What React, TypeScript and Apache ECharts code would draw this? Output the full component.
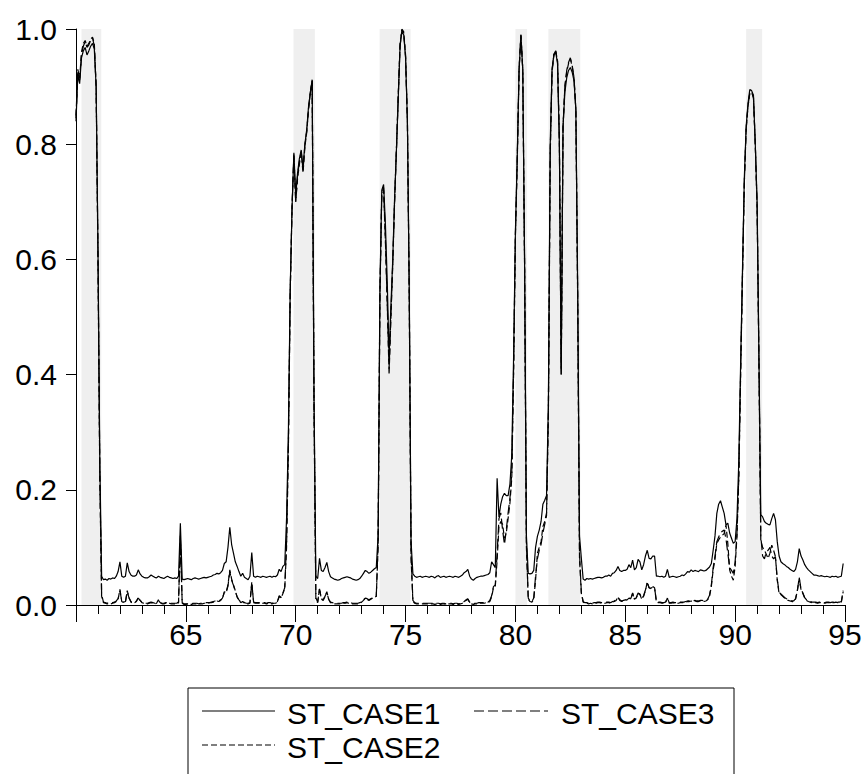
import React, { useEffect, useRef } from 'react';
import * as echarts from 'echarts';

// Monthly observations, 1960:01 .. 1994:12
const START_YEAR = 1960;

const ST_CASE1 = [
  0.84, 0.92, 0.905, 0.95, 0.962, 0.968, 0.955, 0.962, 0.97, 0.975, 0.965, 0.90, // 1960
  0.62, 0.25, 0.05, 0.044, 0.045, 0.043, 0.046, 0.045, 0.047, 0.046, 0.05, 0.058, // 1961
  0.075, 0.05, 0.048, 0.05, 0.073, 0.058, 0.052, 0.05, 0.05, 0.052, 0.061, 0.054, // 1962
  0.05, 0.048, 0.047, 0.047, 0.049, 0.052, 0.05, 0.048, 0.047, 0.05, 0.048, 0.047, // 1963
  0.046, 0.048, 0.05, 0.048, 0.047, 0.046, 0.047, 0.046, 0.05, 0.142, 0.045, 0.044, // 1964
  0.045, 0.046, 0.045, 0.044, 0.046, 0.047, 0.046, 0.045, 0.046, 0.047, 0.048, 0.047, // 1965
  0.048, 0.049, 0.05, 0.052, 0.053, 0.055, 0.054, 0.056, 0.06, 0.072, 0.075, 0.10, // 1966
  0.135, 0.105, 0.09, 0.075, 0.067, 0.058, 0.05, 0.055, 0.048, 0.046, 0.044, 0.05, // 1967
  0.091, 0.05, 0.048, 0.05, 0.049, 0.048, 0.05, 0.049, 0.048, 0.049, 0.05, 0.048, // 1968
  0.05, 0.049, 0.052, 0.062, 0.058, 0.067, 0.07, 0.15, 0.30, 0.55, 0.69, 0.785, // 1969
  0.71, 0.75, 0.775, 0.79, 0.76, 0.80, 0.825, 0.865, 0.89, 0.912, 0.36, 0.05, // 1970
  0.046, 0.081, 0.06, 0.058, 0.065, 0.074, 0.058, 0.049, 0.047, 0.045, 0.044, 0.043, // 1971
  0.044, 0.046, 0.047, 0.048, 0.049, 0.048, 0.047, 0.045, 0.044, 0.043, 0.044, 0.046, // 1972
  0.05, 0.055, 0.06, 0.058, 0.055, 0.057, 0.06, 0.063, 0.065, 0.12, 0.55, 0.72, // 1973
  0.73, 0.66, 0.56, 0.43, 0.52, 0.60, 0.706, 0.79, 0.88, 0.97, 0.995, 0.99, // 1974
  0.95, 0.84, 0.55, 0.11, 0.054, 0.05, 0.048, 0.049, 0.05, 0.048, 0.049, 0.05, // 1975
  0.049, 0.048, 0.05, 0.049, 0.047, 0.05, 0.051, 0.048, 0.049, 0.05, 0.048, 0.049, // 1976
  0.05, 0.049, 0.048, 0.05, 0.049, 0.048, 0.05, 0.052, 0.056, 0.058, 0.062, 0.05, // 1977
  0.045, 0.043, 0.046, 0.048, 0.049, 0.05, 0.05, 0.051, 0.052, 0.053, 0.056, 0.075, // 1978
  0.07, 0.065, 0.22, 0.153, 0.175, 0.188, 0.194, 0.19, 0.19, 0.21, 0.26, 0.43, // 1979
  0.65, 0.78, 0.93, 0.988, 0.93, 0.60, 0.12, 0.055, 0.054, 0.055, 0.06, 0.10, // 1980
  0.119, 0.13, 0.145, 0.175, 0.182, 0.19, 0.35, 0.80, 0.93, 0.955, 0.96, 0.94, // 1981
  0.80, 0.40, 0.83, 0.89, 0.915, 0.928, 0.933, 0.925, 0.91, 0.86, 0.55, 0.12, // 1982
  0.081, 0.045, 0.043, 0.046, 0.045, 0.046, 0.045, 0.046, 0.047, 0.048, 0.048, 0.047, // 1983
  0.048, 0.05, 0.05, 0.052, 0.05, 0.055, 0.056, 0.06, 0.067, 0.06, 0.058, 0.06, // 1984
  0.06, 0.062, 0.07, 0.065, 0.078, 0.061, 0.065, 0.079, 0.075, 0.061, 0.07, 0.085, // 1985
  0.095, 0.081, 0.08, 0.085, 0.085, 0.05, 0.05, 0.049, 0.05, 0.048, 0.05, 0.062, // 1986
  0.048, 0.049, 0.05, 0.049, 0.048, 0.049, 0.05, 0.052, 0.051, 0.054, 0.058, 0.057, // 1987
  0.061, 0.058, 0.06, 0.059, 0.058, 0.061, 0.06, 0.059, 0.06, 0.063, 0.066, 0.072, // 1988
  0.095, 0.12, 0.159, 0.175, 0.181, 0.17, 0.159, 0.139, 0.142, 0.125, 0.116, 0.107, // 1989
  0.11, 0.15, 0.25, 0.42, 0.58, 0.74, 0.83, 0.87, 0.895, 0.893, 0.885, 0.80, // 1990
  0.70, 0.43, 0.157, 0.153, 0.145, 0.142, 0.14, 0.139, 0.15, 0.159, 0.148, 0.11, // 1991
  0.085, 0.075, 0.072, 0.07, 0.067, 0.065, 0.062, 0.06, 0.058, 0.062, 0.075, 0.098, // 1992
  0.085, 0.078, 0.07, 0.065, 0.061, 0.058, 0.055, 0.052, 0.052, 0.051, 0.05, 0.051, // 1993
  0.05, 0.049, 0.05, 0.049, 0.048, 0.05, 0.049, 0.05, 0.048, 0.049, 0.05, 0.072, // 1994
];

const ST_CASE2 = [
  0.85, 0.93, 0.915, 0.96, 0.975, 0.98, 0.97, 0.975, 0.982, 0.986, 0.975, 0.90, // 1960
  0.60, 0.22, 0.015, 0.004, 0.003, 0.002, 0.003, 0.002, 0.003, 0.004, 0.006, 0.01, // 1961
  0.027, 0.006, 0.004, 0.005, 0.025, 0.012, 0.005, 0.003, 0.004, 0.006, 0.013, 0.008, // 1962
  0.004, 0.003, 0.002, 0.002, 0.003, 0.004, 0.003, 0.002, 0.003, 0.009, 0.004, 0.002, // 1963
  0.002, 0.003, 0.004, 0.003, 0.002, 0.002, 0.002, 0.002, 0.004, 0.12, 0.003, 0.001, // 1964
  0.001, 0.002, 0.001, 0.001, 0.002, 0.002, 0.002, 0.001, 0.002, 0.002, 0.003, 0.003, // 1965
  0.003, 0.004, 0.004, 0.005, 0.006, 0.007, 0.006, 0.008, 0.011, 0.023, 0.022, 0.035, // 1966
  0.061, 0.045, 0.035, 0.025, 0.014, 0.008, 0.004, 0.006, 0.003, 0.002, 0.002, 0.003, // 1967
  0.04, 0.004, 0.003, 0.003, 0.003, 0.002, 0.003, 0.003, 0.002, 0.003, 0.003, 0.002, // 1968
  0.003, 0.003, 0.005, 0.015, 0.012, 0.02, 0.028, 0.10, 0.27, 0.54, 0.69, 0.78, // 1969
  0.70, 0.74, 0.765, 0.785, 0.75, 0.795, 0.82, 0.86, 0.89, 0.91, 0.34, 0.01, // 1970
  0.004, 0.029, 0.01, 0.008, 0.015, 0.023, 0.01, 0.004, 0.003, 0.002, 0.002, 0.002, // 1971
  0.002, 0.002, 0.003, 0.003, 0.004, 0.003, 0.003, 0.002, 0.002, 0.002, 0.002, 0.003, // 1972
  0.005, 0.008, 0.012, 0.01, 0.008, 0.01, 0.012, 0.013, 0.015, 0.10, 0.54, 0.71, // 1973
  0.72, 0.63, 0.52, 0.40, 0.50, 0.59, 0.70, 0.79, 0.885, 0.975, 1.0, 0.995, // 1974
  0.955, 0.84, 0.54, 0.08, 0.006, 0.003, 0.002, 0.002, 0.002, 0.002, 0.002, 0.002, // 1975
  0.002, 0.002, 0.002, 0.002, 0.001, 0.002, 0.002, 0.001, 0.002, 0.002, 0.001, 0.002, // 1976
  0.002, 0.002, 0.001, 0.002, 0.002, 0.001, 0.002, 0.003, 0.005, 0.008, 0.01, 0.004, // 1977
  0.002, 0.001, 0.002, 0.002, 0.003, 0.003, 0.003, 0.003, 0.004, 0.004, 0.006, 0.014, // 1978
  0.03, 0.032, 0.078, 0.136, 0.145, 0.14, 0.116, 0.125, 0.15, 0.177, 0.22, 0.40, // 1979
  0.64, 0.77, 0.93, 0.99, 0.93, 0.59, 0.10, 0.01, 0.006, 0.005, 0.01, 0.043, // 1980
  0.09, 0.10, 0.11, 0.136, 0.145, 0.16, 0.33, 0.78, 0.925, 0.955, 0.962, 0.945, // 1981
  0.81, 0.40, 0.83, 0.90, 0.925, 0.94, 0.948, 0.935, 0.915, 0.86, 0.53, 0.08, // 1982
  0.02, 0.005, 0.003, 0.003, 0.002, 0.003, 0.002, 0.003, 0.003, 0.004, 0.004, 0.003, // 1983
  0.003, 0.003, 0.004, 0.004, 0.003, 0.005, 0.006, 0.008, 0.014, 0.008, 0.006, 0.007, // 1984
  0.008, 0.009, 0.012, 0.01, 0.021, 0.01, 0.012, 0.02, 0.018, 0.01, 0.015, 0.025, // 1985
  0.04, 0.03, 0.028, 0.032, 0.03, 0.005, 0.004, 0.004, 0.003, 0.003, 0.004, 0.012, // 1986
  0.003, 0.003, 0.004, 0.003, 0.003, 0.003, 0.004, 0.004, 0.004, 0.005, 0.006, 0.006, // 1987
  0.007, 0.006, 0.007, 0.006, 0.006, 0.007, 0.007, 0.006, 0.007, 0.009, 0.015, 0.032, // 1988
  0.061, 0.08, 0.107, 0.113, 0.118, 0.121, 0.124, 0.139, 0.107, 0.061, 0.05, 0.043, // 1989
  0.067, 0.12, 0.22, 0.40, 0.57, 0.73, 0.825, 0.865, 0.888, 0.89, 0.88, 0.80, // 1990
  0.69, 0.42, 0.113, 0.10, 0.095, 0.088, 0.081, 0.09, 0.104, 0.095, 0.084, 0.043, // 1991
  0.02, 0.018, 0.015, 0.012, 0.01, 0.008, 0.007, 0.006, 0.006, 0.01, 0.025, 0.046, // 1992
  0.026, 0.02, 0.012, 0.008, 0.006, 0.005, 0.004, 0.004, 0.004, 0.003, 0.004, 0.004, // 1993
  0.004, 0.003, 0.004, 0.004, 0.003, 0.004, 0.004, 0.005, 0.004, 0.004, 0.005, 0.023, // 1994
];

const ST_CASE3 = [
  0.845, 0.925, 0.91, 0.955, 0.97, 0.978, 0.968, 0.972, 0.98, 0.985, 0.97, 0.90, // 1960
  0.61, 0.23, 0.018, 0.005, 0.004, 0.003, 0.004, 0.003, 0.004, 0.005, 0.007, 0.011, // 1961
  0.025, 0.007, 0.005, 0.006, 0.023, 0.012, 0.006, 0.004, 0.005, 0.007, 0.012, 0.008, // 1962
  0.005, 0.004, 0.003, 0.003, 0.004, 0.005, 0.004, 0.003, 0.004, 0.008, 0.004, 0.003, // 1963
  0.003, 0.004, 0.004, 0.003, 0.003, 0.003, 0.003, 0.003, 0.005, 0.11, 0.004, 0.002, // 1964
  0.002, 0.002, 0.002, 0.002, 0.003, 0.003, 0.003, 0.002, 0.003, 0.003, 0.004, 0.004, // 1965
  0.004, 0.004, 0.005, 0.006, 0.007, 0.008, 0.007, 0.009, 0.012, 0.022, 0.021, 0.033, // 1966
  0.058, 0.043, 0.034, 0.024, 0.014, 0.009, 0.005, 0.007, 0.004, 0.003, 0.003, 0.004, // 1967
  0.038, 0.005, 0.004, 0.004, 0.004, 0.003, 0.004, 0.004, 0.003, 0.004, 0.004, 0.003, // 1968
  0.004, 0.004, 0.006, 0.016, 0.013, 0.021, 0.03, 0.11, 0.28, 0.545, 0.69, 0.782, // 1969
  0.70, 0.745, 0.77, 0.787, 0.755, 0.798, 0.822, 0.862, 0.89, 0.91, 0.35, 0.012, // 1970
  0.005, 0.028, 0.011, 0.009, 0.015, 0.022, 0.01, 0.005, 0.004, 0.003, 0.003, 0.003, // 1971
  0.003, 0.003, 0.004, 0.004, 0.005, 0.004, 0.004, 0.003, 0.003, 0.003, 0.003, 0.004, // 1972
  0.006, 0.009, 0.012, 0.011, 0.009, 0.011, 0.012, 0.013, 0.015, 0.11, 0.545, 0.715, // 1973
  0.725, 0.635, 0.525, 0.41, 0.505, 0.595, 0.70, 0.79, 0.883, 0.972, 0.998, 0.993, // 1974
  0.952, 0.84, 0.545, 0.09, 0.008, 0.004, 0.003, 0.003, 0.003, 0.003, 0.003, 0.003, // 1975
  0.003, 0.003, 0.003, 0.003, 0.002, 0.003, 0.003, 0.002, 0.003, 0.003, 0.002, 0.003, // 1976
  0.003, 0.003, 0.002, 0.003, 0.003, 0.002, 0.003, 0.004, 0.006, 0.009, 0.011, 0.005, // 1977
  0.003, 0.002, 0.003, 0.003, 0.004, 0.004, 0.004, 0.004, 0.005, 0.005, 0.008, 0.016, // 1978
  0.032, 0.035, 0.09, 0.15, 0.16, 0.13, 0.105, 0.13, 0.16, 0.185, 0.23, 0.41, // 1979
  0.645, 0.775, 0.93, 0.99, 0.93, 0.595, 0.11, 0.012, 0.007, 0.006, 0.012, 0.05, // 1980
  0.08, 0.095, 0.105, 0.125, 0.14, 0.155, 0.335, 0.785, 0.928, 0.956, 0.962, 0.944, // 1981
  0.805, 0.41, 0.83, 0.90, 0.928, 0.942, 0.95, 0.937, 0.915, 0.86, 0.54, 0.09, // 1982
  0.022, 0.006, 0.004, 0.004, 0.003, 0.004, 0.003, 0.004, 0.004, 0.005, 0.005, 0.004, // 1983
  0.004, 0.004, 0.005, 0.005, 0.004, 0.006, 0.007, 0.009, 0.013, 0.009, 0.007, 0.008, // 1984
  0.009, 0.01, 0.013, 0.011, 0.02, 0.011, 0.013, 0.021, 0.019, 0.011, 0.016, 0.026, // 1985
  0.038, 0.03, 0.029, 0.031, 0.03, 0.006, 0.005, 0.005, 0.004, 0.004, 0.005, 0.012, // 1986
  0.004, 0.004, 0.005, 0.004, 0.004, 0.004, 0.005, 0.005, 0.005, 0.006, 0.007, 0.007, // 1987
  0.008, 0.007, 0.008, 0.007, 0.007, 0.008, 0.008, 0.007, 0.008, 0.01, 0.017, 0.035, // 1988
  0.065, 0.085, 0.11, 0.118, 0.125, 0.128, 0.13, 0.115, 0.09, 0.065, 0.06, 0.055, // 1989
  0.075, 0.125, 0.225, 0.405, 0.572, 0.732, 0.826, 0.866, 0.889, 0.891, 0.882, 0.80, // 1990
  0.69, 0.425, 0.12, 0.085, 0.08, 0.092, 0.095, 0.1, 0.085, 0.08, 0.084, 0.045, // 1991
  0.022, 0.019, 0.016, 0.013, 0.011, 0.009, 0.008, 0.007, 0.007, 0.011, 0.026, 0.048, // 1992
  0.027, 0.021, 0.013, 0.009, 0.007, 0.006, 0.005, 0.005, 0.005, 0.004, 0.005, 0.005, // 1993
  0.005, 0.004, 0.005, 0.005, 0.004, 0.005, 0.005, 0.006, 0.005, 0.005, 0.006, 0.025, // 1994
];

// Shaded (recession) periods, in fractional years
const SHADE_START = [1960.25, 1969.9, 1973.82, 1980.0, 1981.5, 1990.5];
const SHADE_END = [1961.15, 1970.87, 1975.23, 1980.53, 1982.95, 1991.23];

const SERIES_NAMES = ['ST_CASE1', 'ST_CASE2', 'ST_CASE3'];

const FONT = '"Liberation Sans", Arial, Helvetica, sans-serif';

export default function App() {
  const ref = useRef<HTMLDivElement>(null);

  useEffect(() => {
    if (!ref.current) return;
    const chart = echarts.init(ref.current, null, { renderer: 'svg' });
    const toPairs = (arr: number[]) => arr.map((v, i) => [START_YEAR + i / 12, v]);

    const lineSeries = (name: string, data: number[], dash: any) => ({
      name,
      type: 'line',
      data: toPairs(data),
      showSymbol: false,
      symbol: 'none',
      z: 3,
      lineStyle: { color: '#000', width: 1.2, type: dash },
      emphasis: { disabled: true },
    });

    chart.setOption({
      animation: false,
      backgroundColor: '#fff',
      grid: { left: 76, top: 29, right: 20, bottom: 169, containLabel: false },
      xAxis: {
        type: 'value',
        min: 1960,
        max: 1995,
        interval: 5,
        axisLine: { show: true, lineStyle: { color: '#000', width: 1 } },
        axisTick: { show: true, length: 17, lineStyle: { color: '#000', width: 1 } },
        minorTick: { show: true, splitNumber: 5, length: 9, lineStyle: { color: '#000', width: 1 } },
        splitLine: { show: false },
        minorSplitLine: { show: false },
        axisLabel: {
          formatter: (v: number) => (v === 1960 ? '' : String(v).slice(2)),
          fontSize: 30,
          color: '#000',
          fontFamily: FONT,
          margin: 14,
        },
      },
      yAxis: {
        type: 'value',
        min: 0,
        max: 1,
        interval: 0.2,
        axisLine: { show: true, lineStyle: { color: '#000', width: 1 } },
        axisTick: { show: true, length: 10, lineStyle: { color: '#000', width: 1 } },
        splitLine: { show: false },
        axisLabel: {
          formatter: (v: number) => v.toFixed(1),
          fontSize: 30,
          color: '#000',
          fontFamily: FONT,
          margin: 19,
        },
      },
      series: [
        {
          name: 'shade',
          type: 'line',
          data: [],
          z: 1,
          silent: true,
          markArea: {
            silent: true,
            itemStyle: { color: '#efefef' },
            data: SHADE_START.map((s, i) => [{ xAxis: s }, { xAxis: SHADE_END[i] }]),
          },
        },
        lineSeries(SERIES_NAMES[0], ST_CASE1, 'solid'),
        lineSeries(SERIES_NAMES[1], ST_CASE2, [6, 3]),
        lineSeries(SERIES_NAMES[2], ST_CASE3, [10, 4]),
      ],
      graphic: [
        {
          type: 'rect',
          shape: { x: 188, y: 688, width: 546, height: 130 },
          style: { fill: '#fff', stroke: '#000', lineWidth: 1 },
          z: 10,
        },
        {
          type: 'line',
          shape: { x1: 202, y1: 711, x2: 275, y2: 711 },
          style: { stroke: '#000', lineWidth: 1.2 },
          z: 11,
        },
        {
          type: 'text',
          style: { text: SERIES_NAMES[0], x: 287, y: 713, fill: '#000', fontSize: 30, fontFamily: FONT, verticalAlign: 'middle' },
          z: 11,
        },
        {
          type: 'line',
          shape: { x1: 474, y1: 711, x2: 548, y2: 711 },
          style: { stroke: '#000', lineWidth: 1.2, lineDash: [10, 4] },
          z: 11,
        },
        {
          type: 'text',
          style: { text: SERIES_NAMES[2], x: 561, y: 713, fill: '#000', fontSize: 30, fontFamily: FONT, verticalAlign: 'middle' },
          z: 11,
        },
        {
          type: 'line',
          shape: { x1: 202, y1: 745, x2: 275, y2: 745 },
          style: { stroke: '#000', lineWidth: 1.2, lineDash: [6, 3] },
          z: 11,
        },
        {
          type: 'text',
          style: { text: SERIES_NAMES[1], x: 287, y: 747, fill: '#000', fontSize: 30, fontFamily: FONT, verticalAlign: 'middle' },
          z: 11,
        },
      ],
    });

    return () => chart.dispose();
  }, []);

  return (
    <div
      ref={ref}
      style={{ position: 'fixed', left: 0, top: 0, width: 865, height: 774, background: '#fff' }}
    />
  );
}
